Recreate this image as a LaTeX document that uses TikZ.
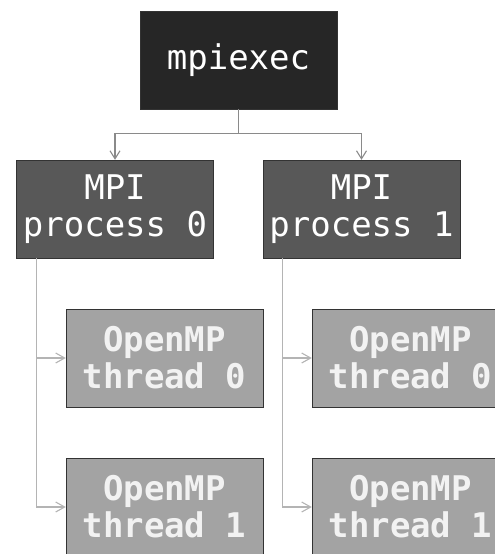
\documentclass[tikz,border=0pt]{standalone}
\usepackage{fontspec}
\setmonofont{DejaVu Sans Mono}
\usetikzlibrary{arrows.meta,positioning}
\definecolor{launchfill}{HTML}{262626}
\definecolor{procfill}{HTML}{585858}
\definecolor{threadfill}{HTML}{A3A3A3}
\definecolor{boxline}{HTML}{333333}
\definecolor{linkdark}{HTML}{8A8A8A}
\definecolor{linklight}{HTML}{B4B4B4}
\tikzset{
  box/.style={draw=boxline, thin, minimum width=197pt, minimum height=98pt,
    inner sep=0pt, align=center, text=white,
    font=\ttfamily\fontsize{34}{37}\selectfont},
  launch/.style={box, fill=launchfill},
  proc/.style={box, fill=procfill},
  thread/.style={box, fill=threadfill, text=white!95!black,
    font=\ttfamily\bfseries\fontsize{34}{37}\selectfont},
  link/.style={draw=linkdark, line width=1.1pt, -{Straight Barb[length=8pt,width=10pt]}},
  sublink/.style={draw=linklight, line width=1.1pt, -{Straight Barb[length=9pt,width=10pt]}}
}
\begin{document}
\begin{tikzpicture}[x=1pt, y=-1pt]
  \useasboundingbox (0,0) rectangle (495,554);
  \clip (0,0) rectangle (495,554);
  \node[launch] (mpiexec) at (238.5,60) {mpiexec};
  \node[proc] (proc0) at (115,209) {MPI\\process 0};
  \node[proc] (proc1) at (361.5,209) {MPI\\process 1};
  \node[thread] (thr00) at (164.5,358) {OpenMP\\thread 0};
  \node[thread] (thr01) at (164.5,507) {OpenMP\\thread 1};
  \node[thread] (thr10) at (410.5,358) {OpenMP\\thread 0};
  \node[thread] (thr11) at (410.5,507) {OpenMP\\thread 1};
  % mpiexec -> processes
  \coordinate[below=24pt of mpiexec.south] (split);
  \draw[link] (mpiexec.south) -- (split) -| (proc0.north);
  \draw[link] (split) -| (proc1.north);
  % processes -> threads
  \draw[sublink] ([xshift=20pt]proc0.south west) |- (thr00.west);
  \draw[sublink] ([xshift=20pt]proc0.south west) |- (thr01.west);
  \draw[sublink] ([xshift=20pt]proc1.south west) |- (thr10.west);
  \draw[sublink] ([xshift=20pt]proc1.south west) |- (thr11.west);
\end{tikzpicture}
\end{document}
